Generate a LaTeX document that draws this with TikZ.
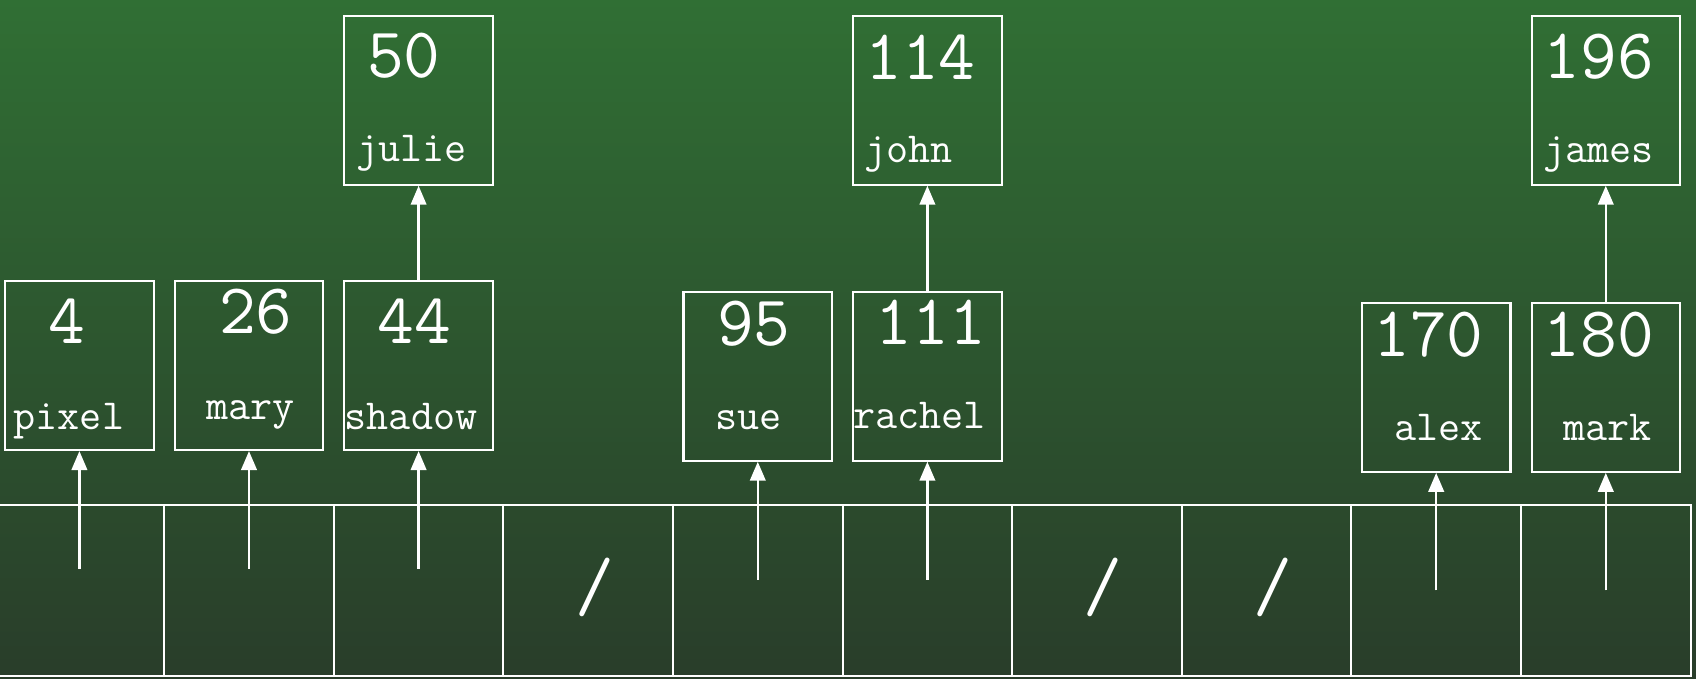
\documentclass[tikz,border=0pt]{standalone}
\usepackage{fontspec}
\usetikzlibrary{arrows.meta, positioning, calc}
\definecolor{bgtop}{RGB}{48,111,52}
\definecolor{bgbot}{RGB}{41,61,42}
\tikzset{
    slot/.style={
        rectangle, draw=white, line width=0.6pt,
        minimum width=1.696cm, minimum height=1.71cm, inner sep=0pt
    },
    entry/.style={
        rectangle, draw=white, line width=0.6pt,
        minimum width=1.485cm, minimum height=1.69cm, inner sep=0pt
    },
    keytxt/.style={
        anchor=base, text=white, inner sep=0pt,
        font=\ttfamily\fontsize{20.3}{23}\selectfont
    },
    nametxt/.style={
        anchor=base, text=white, inner sep=0pt,
        font=\ttfamily\fontsize{12.2}{14}\selectfont
    },
    nulltxt/.style={
        text=white, inner sep=0pt,
        font=\ttfamily\fontsize{21.5}{24}\selectfont
    },
    ptr_arrow/.style={
        -{Triangle[length=0.19cm, width=0.155cm]}, draw=white, line width=0.7pt
    }
}

\begin{document}
\begin{tikzpicture}
    % Background
    \useasboundingbox (0,0) rectangle (16.96,-6.79);
    \fill[top color=bgtop, bottom color=bgbot] (0,0) rectangle (16.96,-6.79);

    % Bucket array
    \foreach \i in {0,...,9}
        \node[slot] (cell\i) at ({0.794+1.696*\i}, -5.905) {};

    % Empty buckets
    \foreach \i in {3,6,7}
        \node[nulltxt] (null\i) at ($(cell\i)+(0.063,0.033)$) {/};

    % Lower Row
    \node[entry] (pixel) at (0.794, -3.655) {};
    \node[entry] (mary) at (2.490, -3.655) {};
    \node[entry] (shadow) at (4.186, -3.655) {};
    \node[entry] (sue) at (7.578, -3.762) {};
    \node[entry] (rachel) at (9.274, -3.762) {};
    \node[entry] (alex) at (14.362, -3.873) {};
    \node[entry] (mark) at (16.058, -3.873) {};

    % Upper Row
    \node[entry] (julie) at (4.186, -1.002) {};
    \node[entry] (john) at (9.274, -1.002) {};
    \node[entry] (james) at (16.058, -1.002) {};

    % Keys and names
    \node[keytxt] (k4) at ($(pixel.north)+(-0.125,-0.64)$) {4};
    \node[nametxt] (n_pixel) at ($(pixel.north)+(-0.105,-1.50)$) {pixel};
    \node[keytxt] (k26) at ($(mary.north)+(0.068,-0.54)$) {26};
    \node[nametxt] (n_mary) at ($(mary.north)+(0.015,-1.40)$) {mary};
    \node[keytxt] (k44) at ($(shadow.north)+(-0.043,-0.64)$) {44};
    \node[nametxt] (n_shadow) at ($(shadow.north)+(-0.076,-1.50)$) {shadow};
    \node[keytxt] (k50) at ($(julie.north)+(-0.147,-0.63)$) {50};
    \node[nametxt] (n_julie) at ($(julie.north)+(-0.068,-1.47)$) {julie};
    \node[keytxt] (k95) at ($(sue.north)+(-0.04,-0.55)$) {95};
    \node[nametxt] (n_sue) at ($(sue.north)+(-0.092,-1.39)$) {sue};
    \node[keytxt] (k111) at ($(rachel.north)+(0.036,-0.54)$) {111};
    \node[nametxt] (n_rachel) at ($(rachel.north)+(-0.08,-1.38)$) {rachel};
    \node[keytxt] (k114) at ($(john.north)+(-0.07,-0.65)$) {114};
    \node[nametxt] (n_john) at ($(john.north)+(-0.19,-1.48)$) {john};
    \node[keytxt] (k170) at ($(alex.north)+(-0.076,-0.55)$) {170};
    \node[nametxt] (n_alex) at ($(alex.north)+(0.02,-1.39)$) {alex};
    \node[keytxt] (k180) at ($(mark.north)+(-0.07,-0.55)$) {180};
    \node[nametxt] (n_mark) at ($(mark.north)+(0.015,-1.39)$) {mark};
    \node[keytxt] (k196) at ($(james.north)+(-0.07,-0.64)$) {196};
    \node[nametxt] (n_james) at ($(james.north)+(-0.07,-1.48)$) {james};

    % Pointer tails
    \coordinate (t0) at ($(cell0)+(0,0.215)$);
    \coordinate (t1) at ($(cell1)+(0,0.215)$);
    \coordinate (t2) at ($(cell2)+(0,0.215)$);
    \coordinate (t4) at ($(cell4)+(0,0.105)$);
    \coordinate (t5) at ($(cell5)+(0,0.105)$);
    \coordinate (t8) at ($(cell8)+(0,0)$);
    \coordinate (t9) at ($(cell9)+(0,0)$);

    % Pointers
    \draw[ptr_arrow] (t0) -- (pixel.south);
    \draw[ptr_arrow] (t1) -- (mary.south);
    \draw[ptr_arrow] (t2) -- (shadow.south);
    \draw[ptr_arrow] (t4) -- (sue.south);
    \draw[ptr_arrow] (t5) -- (rachel.south);
    \draw[ptr_arrow] (t8) -- (alex.south);
    \draw[ptr_arrow] (t9) -- (mark.south);
    \draw[ptr_arrow] (shadow.north) -- (julie.south);
    \draw[ptr_arrow] (rachel.north) -- (john.south);
    \draw[ptr_arrow] (mark.north) -- (james.south);
\end{tikzpicture}
\end{document}
